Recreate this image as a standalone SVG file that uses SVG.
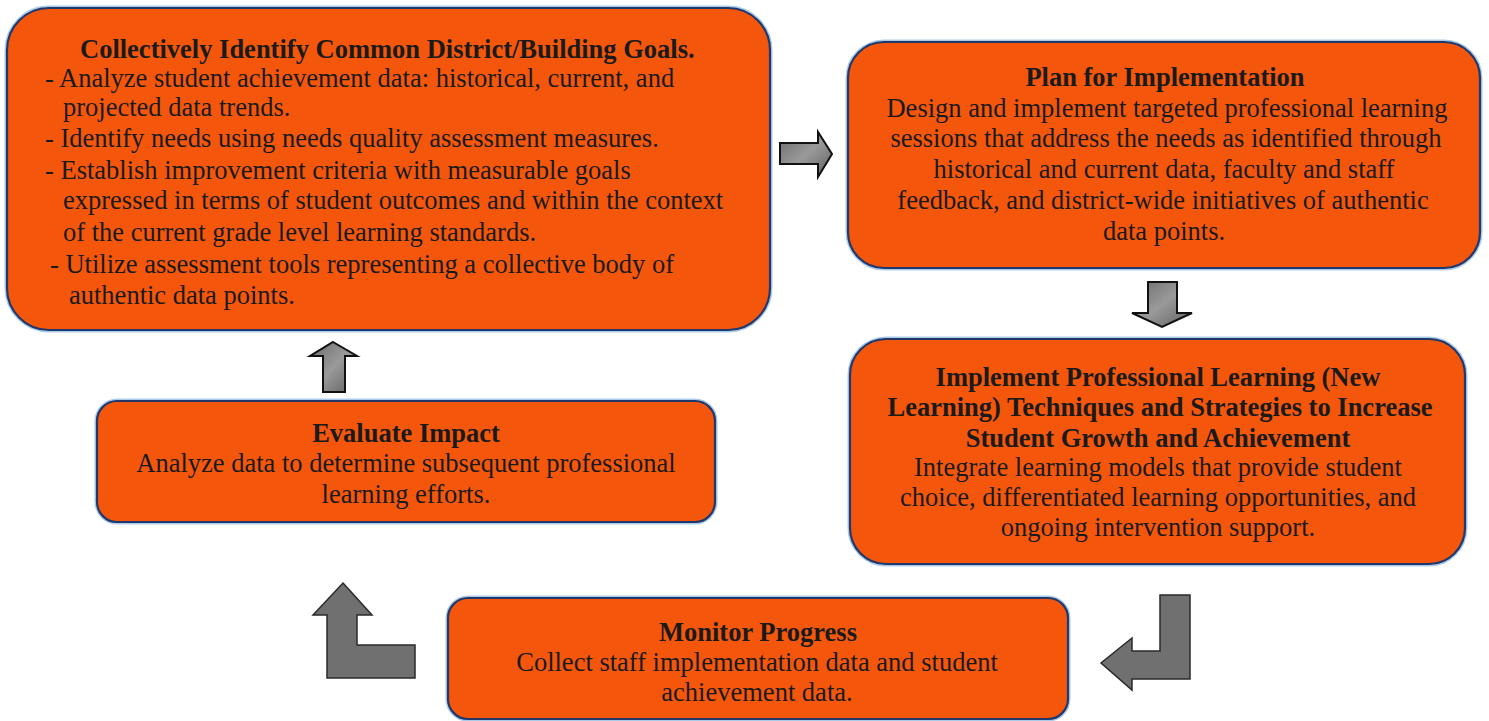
<svg xmlns="http://www.w3.org/2000/svg" width="1489" height="721" viewBox="0 0 1489 721">
  <defs>
    <style>
      .halo { fill: none; stroke: #A9CBEA; stroke-width: 5; }
      .box { fill: #F4570C; stroke: #23386A; stroke-width: 2.2; }
      .t { font-family: "Liberation Serif", "Times New Roman", serif; font-size: 26.5px; fill: #1a1a1a; }
      .b { font-weight: bold; }
      .c { text-anchor: middle; }
      .arr { fill: url(#grey); stroke: #111; stroke-width: 2; stroke-linejoin: miter; }
      .larr { fill: #707070; stroke: #2a2a2a; stroke-width: 1.5; }
    </style>
    <linearGradient id="grey" x1="0" y1="0" x2="1" y2="1">
      <stop offset="0" stop-color="#6a6a6a"/>
      <stop offset="0.5" stop-color="#9a9a9a"/>
      <stop offset="1" stop-color="#5e5e5e"/>
    </linearGradient>
  </defs>
  <rect width="1489" height="721" fill="#ffffff"/>

  <!-- Step 1: goals -->
  <g id="goals">
    <rect class="halo" x="7" y="8" width="763" height="322" rx="42"/>
    <rect class="box" x="7" y="8" width="763" height="322" rx="42"/>
    <text class="t b" x="80" y="58">Collectively Identify Common District/Building Goals.</text>
    <text class="t" x="45" y="87">- Analyze student achievement data: historical, current, and</text>
    <text class="t" x="63" y="116">projected data trends.</text>
    <text class="t" x="45" y="147">- Identify needs using needs quality assessment measures.</text>
    <text class="t" x="45" y="179">- Establish improvement criteria with measurable goals</text>
    <text class="t" x="63" y="209">expressed in terms of student outcomes and within the context</text>
    <text class="t" x="63" y="241">of the current grade level learning standards.</text>
    <text class="t" x="50" y="273">- Utilize assessment tools representing a collective body of</text>
    <text class="t" x="69" y="304">authentic data points.</text>
  </g>

  <!-- Step 2: plan -->
  <g id="plan">
    <rect class="halo" x="848" y="42" width="632" height="226" rx="36"/>
    <rect class="box" x="848" y="42" width="632" height="226" rx="36"/>
    <text class="t b c" x="1165" y="86">Plan for Implementation</text>
    <text class="t c" x="1167" y="117">Design and implement targeted professional learning</text>
    <text class="t c" x="1166" y="147">sessions that address the needs as identified through</text>
    <text class="t c" x="1164" y="178">historical and current data, faculty and staff</text>
    <text class="t c" x="1163" y="209">feedback, and district-wide initiatives of authentic</text>
    <text class="t c" x="1164" y="240">data points.</text>
  </g>

  <!-- Step 3: implement -->
  <g id="implement">
    <rect class="halo" x="850" y="339" width="615" height="225" rx="36"/>
    <rect class="box" x="850" y="339" width="615" height="225" rx="36"/>
    <text class="t b c" x="1158" y="386">Implement Professional Learning (New</text>
    <text class="t b c" x="1160" y="416">Learning) Techniques and Strategies to Increase</text>
    <text class="t b c" x="1158" y="447">Student Growth and Achievement</text>
    <text class="t c" x="1158" y="476">Integrate learning models that provide student</text>
    <text class="t c" x="1158" y="506">choice, differentiated learning opportunities, and</text>
    <text class="t c" x="1158" y="536">ongoing intervention support.</text>
  </g>

  <!-- Step 4: monitor -->
  <g id="monitor">
    <rect class="halo" x="448" y="598" width="620" height="121" rx="20"/>
    <rect class="box" x="448" y="598" width="620" height="121" rx="20"/>
    <text class="t b c" x="758" y="641">Monitor Progress</text>
    <text class="t c" x="757" y="671">Collect staff implementation data and student</text>
    <text class="t c" x="757" y="701">achievement data.</text>
  </g>

  <!-- Step 5: evaluate -->
  <g id="evaluate">
    <rect class="halo" x="97" y="401" width="618" height="121" rx="20"/>
    <rect class="box" x="97" y="401" width="618" height="121" rx="20"/>
    <text class="t b c" x="406" y="442">Evaluate Impact</text>
    <text class="t c" x="406" y="472">Analyze data to determine subsequent professional</text>
    <text class="t c" x="406" y="503">learning efforts.</text>
  </g>

  <!-- Block arrows linking the steps -->
  <g id="connectors">
    <polygon class="arr" points="780,143 818,143 818,132 832,154 818,177 818,164 780,164"/>
    <polygon class="arr" points="1148,282 1177,282 1177,313 1192,313 1162,327 1132,313 1148,313"/>
    <polygon class="arr" points="333,342 357,356 345,356 345,392 323,392 323,356 310,356"/>
    <polygon class="larr" points="1160,595 1190,595 1190,679 1132,679 1132,690 1101,663 1132,638 1132,651 1160,651"/>
    <polygon class="larr" points="343,583 372,615 357,615 357,645 415,645 415,678 327,678 327,615 313,615"/>
  </g>
</svg>
